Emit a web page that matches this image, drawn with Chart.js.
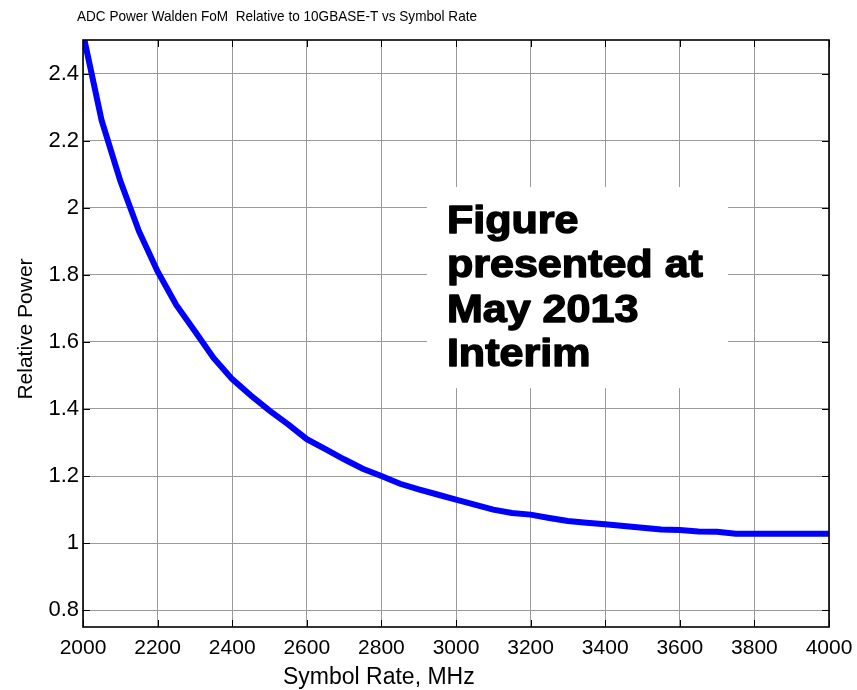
<!DOCTYPE html>
<html>
<head>
<meta charset="utf-8">
<title>ADC Power Walden FoM</title>
<script src="https://cdn.jsdelivr.net/npm/chart.js@4.4.1/dist/chart.umd.min.js"></script>
<style>
    html, body { margin: 0; padding: 0; background: #ffffff; }
    canvas { display: block; }
</style>
</head>
<body>
<canvas id="fom-chart" width="857" height="690"></canvas>
<script>
// Symbol rate (MHz) and ADC power relative to 10GBASE-T
const SYMBOL_RATE = [
    2000, 2050, 2100, 2150, 2200, 2250, 2300, 2350, 2400, 2450,
    2500, 2550, 2600, 2650, 2700, 2750, 2800, 2850, 2900, 2950,
    3000, 3050, 3100, 3150, 3200, 3250, 3300, 3350, 3400, 3450,
    3500, 3550, 3600, 3650, 3700, 3750, 3800, 3850, 3900, 3950, 4000
];
const RELATIVE_POWER = [
    2.52, 2.26, 2.08, 1.93, 1.81, 1.71, 1.632, 1.552, 1.489, 1.44,
    1.395, 1.354, 1.31, 1.28, 1.25, 1.222, 1.20, 1.177, 1.16, 1.145,
    1.13, 1.115, 1.10, 1.09, 1.085, 1.075, 1.066, 1.061, 1.056, 1.051,
    1.046, 1.041, 1.039, 1.035, 1.034, 1.028, 1.028, 1.028, 1.028, 1.028, 1.028
];

const X_TICKS = [2000, 2200, 2400, 2600, 2800, 3000, 3200, 3400, 3600, 3800, 4000];
const Y_TICKS = [0.8, 1.0, 1.2, 1.4, 1.6, 1.8, 2.0, 2.2, 2.4];

const CHART_TITLE = 'ADC Power Walden FoM  Relative to 10GBASE-T vs Symbol Rate';
const X_LABEL = 'Symbol Rate, MHz';
const Y_LABEL = 'Relative Power';
const NOTE_LINES = ['Figure', 'presented at', 'May 2013', 'Interim'];

const FONT = "'Liberation Sans', Arial, sans-serif";

// text squeezed/stretched to a given advance width
function fillFitted(ctx, text, x, y, width, heavy) {
    const w = ctx.measureText(text).width;
    ctx.save();
    ctx.translate(x, y);
    ctx.scale(width / w, 1);
    if (heavy) ctx.strokeText(text, 0, 0);
    ctx.fillText(text, 0, 0);
    ctx.restore();
}

const noteBox = {
    id: 'noteBox',
    beforeDatasetsDraw(chart) {
        const { ctx, scales: { x, y } } = chart;
        const left = x.getPixelForValue(2922);
        const right = x.getPixelForValue(3729);
        const top = y.getPixelForValue(2.062);
        const bottom = y.getPixelForValue(1.462);
        ctx.save();
        ctx.fillStyle = '#ffffff';
        ctx.fillRect(left, top, right - left, bottom - top);

        ctx.fillStyle = '#000000';
        ctx.strokeStyle = '#000000';
        ctx.lineWidth = 1.4;
        ctx.lineJoin = 'round';
        ctx.font = `bold 38px ${FONT}`;
        ctx.textBaseline = 'alphabetic';
        const stretch = 256 / ctx.measureText(NOTE_LINES[1]).width;
        NOTE_LINES.forEach((line, i) => {
            const w = ctx.measureText(line).width * stretch;
            fillFitted(ctx, line, left + 20, top + 46 + i * 44.5, w, true);
        });
        ctx.restore();
    }
};

const axesFrame = {
    id: 'axesFrame',
    afterDraw(chart) {
        const { ctx, chartArea: a, scales: { x, y } } = chart;
        const len = 7;
        ctx.save();
        ctx.strokeStyle = '#000000';
        ctx.lineWidth = 1;
        ctx.beginPath();
        X_TICKS.forEach(v => {
            const px = Math.round(x.getPixelForValue(v)) + 0.5;
            ctx.moveTo(px, a.bottom); ctx.lineTo(px, a.bottom - len);
            ctx.moveTo(px, a.top); ctx.lineTo(px, a.top + len);
        });
        Y_TICKS.forEach(v => {
            const py = Math.round(y.getPixelForValue(v)) + 0.5;
            ctx.moveTo(a.left, py); ctx.lineTo(a.left + len, py);
            ctx.moveTo(a.right, py); ctx.lineTo(a.right - len, py);
        });
        ctx.stroke();

        ctx.lineWidth = 1.6;
        ctx.strokeRect(a.left, a.top, a.right - a.left, a.bottom - a.top);

        // title and axis labels
        ctx.fillStyle = '#000000';
        ctx.textBaseline = 'alphabetic';
        ctx.font = `15px ${FONT}`;
        fillFitted(ctx, CHART_TITLE, 77, 21, 400, false);

        ctx.font = `23px ${FONT}`;
        ctx.fillText(X_LABEL, 283, 684);

        ctx.font = `21px ${FONT}`;
        ctx.translate(32, 329);
        ctx.rotate(-Math.PI / 2);
        ctx.textAlign = 'center';
        ctx.fillText(Y_LABEL, 0, 0);
        ctx.restore();
    }
};

const ctx = document.getElementById('fom-chart').getContext('2d');
new Chart(ctx, {
    type: 'line',
    data: {
        datasets: [{
            data: SYMBOL_RATE.map((rate, i) => ({ x: rate, y: RELATIVE_POWER[i] })),
            borderColor: '#0000ff',
            borderWidth: 6,
            pointRadius: 0,
            tension: 0,
            fill: false,
            clip: 0
        }]
    },
    options: {
        responsive: false,
        animation: false,
        events: [],
        layout: {
            padding: { top: 40, right: 28, left: 0, bottom: 0 }
        },
        plugins: {
            legend: { display: false },
            title: { display: false },
            tooltip: { enabled: false }
        },
        scales: {
            x: {
                type: 'linear',
                min: 2000,
                max: 4000,
                afterBuildTicks: (scale) => { scale.ticks = X_TICKS.map(v => ({ value: v })); },
                afterFit: (scale) => {
                    scale.height = 63;
                    scale.paddingLeft = 0;
                    scale.paddingRight = 0;
                },
                grid: { color: '#9a9a9a', lineWidth: 1, drawTicks: false },
                border: { display: false },
                ticks: {
                    padding: 9,
                    color: '#000000',
                    font: { family: FONT, size: 21 },
                    maxRotation: 0,
                    autoSkip: false,
                    callback: (v) => String(v)
                }
            },
            y: {
                type: 'linear',
                min: 0.75,
                max: 2.5,
                afterBuildTicks: (scale) => { scale.ticks = Y_TICKS.map(v => ({ value: v })); },
                afterFit: (scale) => {
                    scale.width = 83;
                    scale.paddingTop = 0;
                    scale.paddingBottom = 0;
                },
                grid: { color: '#9a9a9a', lineWidth: 1, drawTicks: false },
                border: { display: false },
                ticks: {
                    padding: 4,
                    color: '#000000',
                    font: { family: FONT, size: 22 },
                    autoSkip: false,
                    callback: (v) => String(+v.toFixed(1))
                }
            }
        }
    },
    plugins: [noteBox, axesFrame]
});
</script>
</body>
</html>
